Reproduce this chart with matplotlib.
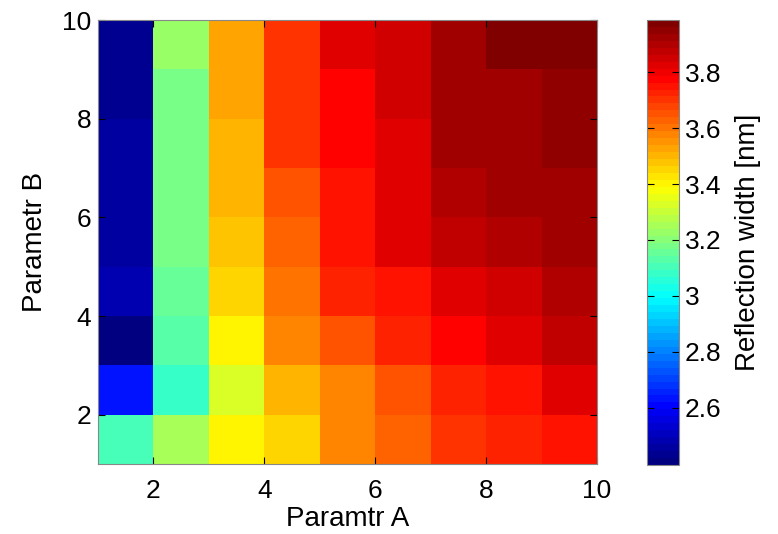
import numpy as np
import matplotlib
matplotlib.use('Agg')
import matplotlib.pyplot as plt
from matplotlib.colors import LinearSegmentedColormap
from matplotlib.ticker import FormatStrFormatter

plt.rcParams['font.family'] = ['Liberation Sans', 'DejaVu Sans']

# cell edges along both parameters
param_a_edges = np.arange(1, 11)
param_b_edges = np.arange(1, 11)

# reflection width [nm], rows from B=1..2 (bottom) up to B=9..10 (top)
width_nm = np.array([
    [3.092, 3.257, 3.390, 3.457, 3.569, 3.638, 3.688, 3.713, 3.762],
    [2.644, 3.070, 3.319, 3.490, 3.588, 3.662, 3.713, 3.762, 3.814],
    [2.416, 3.130, 3.390, 3.569, 3.662, 3.713, 3.787, 3.836, 3.867],
    [2.490, 3.155, 3.443, 3.612, 3.713, 3.762, 3.836, 3.855, 3.894],
    [2.470, 3.179, 3.469, 3.638, 3.738, 3.814, 3.867, 3.894, 3.935],
    [2.470, 3.179, 3.496, 3.662, 3.762, 3.836, 3.894, 3.919, 3.935],
    [2.462, 3.190, 3.496, 3.688, 3.787, 3.836, 3.919, 3.935, 3.959],
    [2.436, 3.190, 3.520, 3.688, 3.787, 3.855, 3.912, 3.935, 3.959],
    [2.436, 3.226, 3.520, 3.688, 3.814, 3.855, 3.912, 3.975, 3.962],
])
cbar_ticks = [2.6, 2.8, 3.0, 3.2, 3.4, 3.6, 3.8]

# MATLAB style jet (64 levels)
jet_m = LinearSegmentedColormap('jet_m', {
    'red':   [(0, 0, 0), (3/8, 0, 0), (5/8, 1, 1), (7/8, 1, 1), (1, 0.5, 0.5)],
    'green': [(0, 0, 0), (1/8, 0, 0), (3/8, 1, 1), (5/8, 1, 1), (7/8, 0, 0), (1, 0, 0)],
    'blue':  [(0, 0.5, 0.5), (1/8, 1, 1), (3/8, 1, 1), (5/8, 0, 0), (1, 0, 0)],
}, N=64)

fig = plt.figure(figsize=(7.78, 5.34), dpi=100)
ax = fig.add_axes([98/778, 1 - 464/534, (597 - 98)/778, (464 - 20)/534])
cax = fig.add_axes([647/778, 1 - 465/534, (679 - 647)/778, (465 - 20)/534])

mesh = ax.pcolormesh(param_a_edges, param_b_edges, width_nm,
                     cmap=jet_m, vmin=2.396, vmax=3.986)
ax.set_xlim(1, 10)
ax.set_ylim(1, 10)
ax.set_xticks([2, 4, 6, 8, 10])
ax.set_yticks([2, 4, 6, 8, 10])
ax.tick_params(direction='in', labelsize=19, length=5, top=True, right=True)
ax.tick_params(axis='x', pad=11)
ax.tick_params(axis='y', pad=5)
ax.set_xlabel('Paramtr A', fontsize=20, labelpad=2)
ax.set_ylabel('Parametr B', fontsize=20, labelpad=10)
for s in ax.spines.values():
    s.set_color('#888888')

cb = fig.colorbar(mesh, cax=cax)
cb.set_ticks(cbar_ticks)
cb.ax.yaxis.set_major_formatter(FormatStrFormatter('%g'))
cb.ax.tick_params(direction='in', labelsize=19, length=5, left=True, right=True, pad=4)
cb.set_label('Reflection width [nm]', fontsize=20, labelpad=10)
cb.outline.set_edgecolor('#888888')

fig.savefig('out.png', dpi=100)
